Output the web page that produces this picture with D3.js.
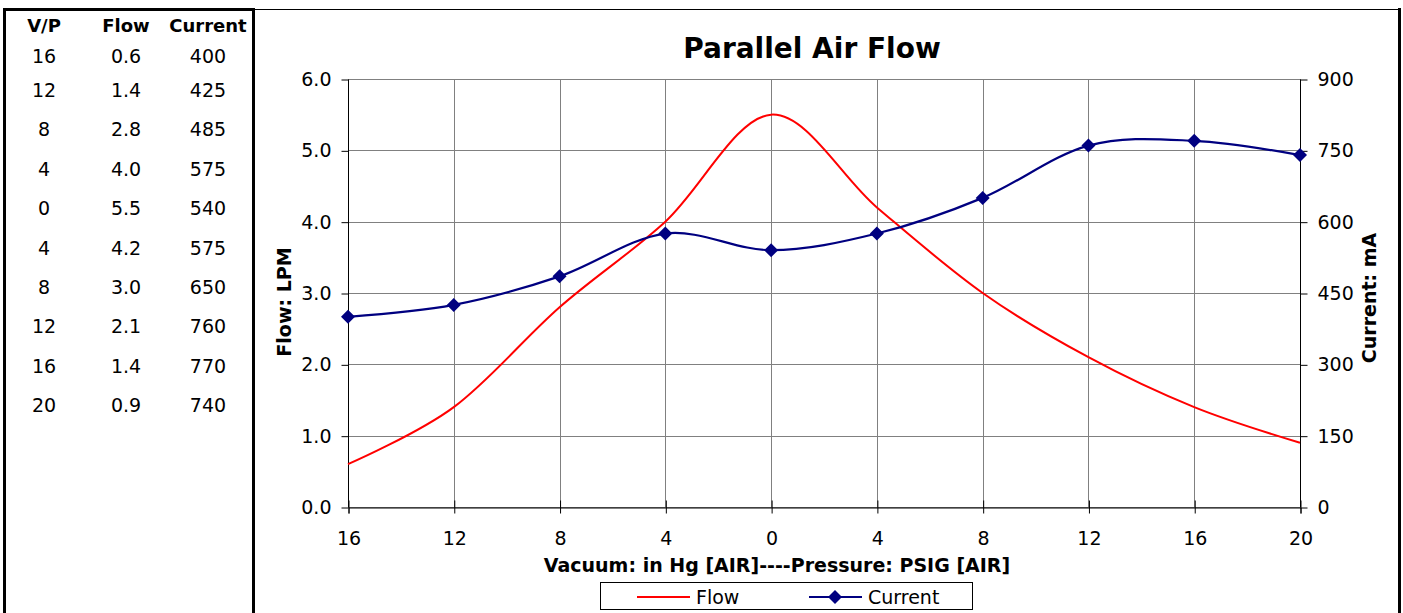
<!DOCTYPE html>
<html>
<head>
<meta charset="utf-8">
<script src="https://cdn.jsdelivr.net/npm/d3@7"></script>
<style>
  body { margin: 0; background: #fff; }
  svg { display: block; font-family: "DejaVu Sans", Verdana, sans-serif; }
</style>
</head>
<body>
<svg id="chart" width="1403" height="613"></svg>
<script>
// data from the table
const categories = ["16", "12", "8", "4", "0", "4", "8", "12", "16", "20"];
const flow = [0.6, 1.4, 2.8, 4.0, 5.5, 4.2, 3.0, 2.1, 1.4, 0.9];
const current = [400, 425, 485, 575, 540, 575, 650, 760, 770, 740];
const flowTicks = [0, 1, 2, 3, 4, 5, 6];
const currentTicks = [0, 150, 300, 450, 600, 750, 900];

const svg = d3.select("#chart");
const margin = { top: 79, right: 102, bottom: 106, left: 348 };
const width = 1403, height = 613;

// --- borders
svg.append("rect").attr("x", 4.5).attr("y", 9.5).attr("width", 249).attr("height", 610)
  .attr("fill", "none").attr("stroke", "#000").attr("stroke-width", 3);
svg.append("line").attr("x1", 255).attr("x2", 1400).attr("y1", 9.5).attr("y2", 9.5)
  .attr("stroke", "#000").attr("stroke-width", 1);
svg.append("line").attr("x1", 1399.5).attr("x2", 1399.5).attr("y1", 8).attr("y2", 613)
  .attr("stroke", "#000").attr("stroke-width", 3);

// --- table at left
const table = svg.append("g").attr("font-size", 19).attr("fill", "#000").attr("text-anchor", "middle");
const colX = [44, 126, 208];
["V/P", "Flow", "Current"].forEach((h, i) => {
  table.append("text").attr("x", colX[i]).attr("y", 32).attr("font-weight", "bold")
    .attr("font-size", 18).text(h);
});
const rowY = i => i === 0 ? 63 : 97 + (i - 1) * 39.4;
categories.forEach((c, i) => {
  table.append("text").attr("x", colX[0]).attr("y", rowY(i)).text(c);
  table.append("text").attr("x", colX[1]).attr("y", rowY(i)).text(flow[i].toFixed(1));
  table.append("text").attr("x", colX[2]).attr("y", rowY(i)).text(current[i]);
});

// --- scales
const x = d3.scalePoint()
  .domain(d3.range(categories.length))
  .range([margin.left, width - margin.right - 1]);
const yL = d3.scaleLinear().domain([0, 6]).range([height - margin.bottom, margin.top]);
const yR = d3.scaleLinear().domain([0, 900]).range([height - margin.bottom, margin.top]);

// --- gridlines
const grid = svg.append("g").attr("stroke", "#808080").attr("stroke-width", 1);
flowTicks.forEach(t => {
  grid.append("line").attr("x1", margin.left).attr("x2", width - margin.right - 1)
    .attr("y1", Math.round(yL(t)) + 0.5).attr("y2", Math.round(yL(t)) + 0.5);
});
categories.forEach((c, i) => {
  grid.append("line").attr("x1", Math.round(x(i)) + 0.5).attr("x2", Math.round(x(i)) + 0.5)
    .attr("y1", margin.top).attr("y2", height - margin.bottom);
});

// --- axes
const leftAxis = svg.append("g")
  .attr("transform", `translate(${margin.left + 0.5},0.5)`)
  .call(d3.axisLeft(yL).tickValues(flowTicks).tickFormat(d3.format(".1f")).tickSize(7).tickPadding(10));
const rightAxis = svg.append("g")
  .attr("transform", `translate(${width - margin.right - 0.5},0.5)`)
  .call(d3.axisRight(yR).tickValues(currentTicks).tickSize(7).tickPadding(10));
const bottomAxis = svg.append("g")
  .attr("transform", `translate(0.5,${height - margin.bottom + 0.5})`)
  .call(d3.axisBottom(x).tickFormat(i => categories[i]).tickSize(6).tickPadding(18));
bottomAxis.selectAll(".tick line").attr("y1", -7);
[leftAxis, rightAxis, bottomAxis].forEach(g => {
  g.selectAll("text").attr("font-size", 19).attr("font-family", "DejaVu Sans, sans-serif").attr("fill", "#000");
  g.selectAll("path.domain").attr("stroke", "#000");
});
leftAxis.select(".domain").attr("d", `M0,${yL(6)}V${yL(0)}`);
rightAxis.select(".domain").attr("d", `M0,${yR(900)}V${yR(0)}`);

// --- lines
const flowLine = d3.line().x((d, i) => x(i)).y(d => yL(d)).curve(d3.curveCatmullRom.alpha(0));
const curLine = d3.line().x((d, i) => x(i)).y(d => yR(d)).curve(d3.curveCatmullRom.alpha(0));

svg.append("path").datum(flow).attr("d", flowLine)
  .attr("fill", "none").attr("stroke", "#ff0000").attr("stroke-width", 2);
svg.append("path").datum(current).attr("d", curLine)
  .attr("fill", "none").attr("stroke", "#000080").attr("stroke-width", 2.2);

const diamond = d3.symbol().type(d3.symbolDiamond2).size(125);
svg.append("g").selectAll("path").data(current).join("path")
  .attr("transform", (d, i) => `translate(${x(i)},${yR(d)})`)
  .attr("d", diamond).attr("fill", "#000080");

// --- titles
svg.append("text").attr("x", 812).attr("y", 58).attr("text-anchor", "middle")
  .attr("font-size", 28).attr("font-weight", "bold").text("Parallel Air Flow");
svg.append("text").attr("x", 777).attr("y", 572).attr("text-anchor", "middle")
  .attr("font-size", 19).attr("font-weight", "bold").text("Vacuum: in Hg [AIR]----Pressure: PSIG [AIR]");
svg.append("text").attr("transform", "translate(291,302) rotate(-90)").attr("text-anchor", "middle")
  .attr("font-size", 19).attr("font-weight", "bold").text("Flow: LPM");
svg.append("text").attr("transform", "translate(1376,298) rotate(-90)").attr("text-anchor", "middle")
  .attr("font-size", 19).attr("font-weight", "bold").text("Current: mA");

// --- legend
const legend = svg.append("g");
legend.append("rect").attr("x", 600.5).attr("y", 582.5).attr("width", 372).attr("height", 27)
  .attr("fill", "#fff").attr("stroke", "#000");
legend.append("line").attr("x1", 637).attr("x2", 690).attr("y1", 597).attr("y2", 597)
  .attr("stroke", "#ff0000").attr("stroke-width", 2);
legend.append("text").attr("x", 696).attr("y", 604).attr("font-size", 19).text("Flow");
legend.append("line").attr("x1", 809).attr("x2", 862).attr("y1", 597).attr("y2", 597)
  .attr("stroke", "#000080").attr("stroke-width", 2.2);
legend.append("path").attr("transform", "translate(835,597)").attr("d", diamond).attr("fill", "#000080");
legend.append("text").attr("x", 868).attr("y", 604).attr("font-size", 19).text("Current");
</script>
</body>
</html>
